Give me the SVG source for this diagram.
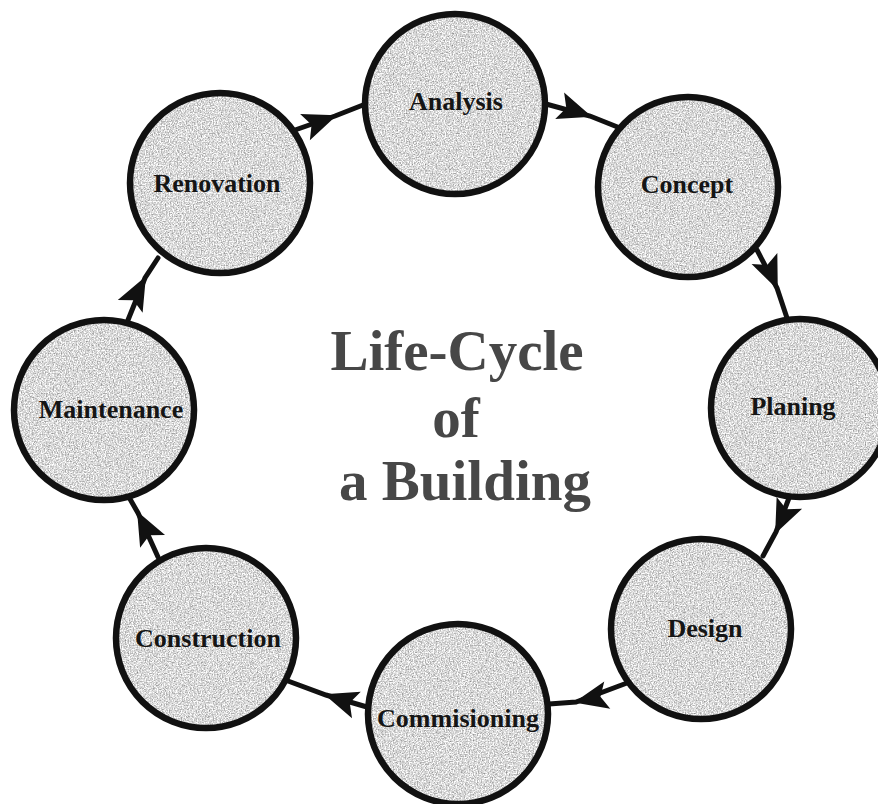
<svg xmlns="http://www.w3.org/2000/svg" width="878" height="804" viewBox="0 0 878 804">
  <defs>
    <style>
      .disc { fill: #000; filter: url(#stipple); }
      .ring { fill: none; stroke: #111; stroke-width: 6.5; }
      .lbl { font-family: "Liberation Serif", "Times New Roman", serif; font-weight: bold; font-size: 26px; fill: #151515; text-anchor: middle; }
      .title { font-family: "Liberation Serif", "Times New Roman", serif; font-weight: bold; font-size: 57px; fill: #474747; text-anchor: middle; }
      .conn { fill: none; stroke: #111; stroke-width: 5; stroke-linecap: round; marker-mid: url(#arrow); }
    </style>
    <filter id="stipple" x="0" y="0" width="1" height="1" color-interpolation-filters="sRGB">
      <feTurbulence type="fractalNoise" baseFrequency="0.75" numOctaves="2" seed="4" result="n"/>
      <feColorMatrix in="n" type="matrix" values="0.8 0 0 0 0.45  0.8 0 0 0 0.45  0.8 0 0 0 0.45  0 0 0 0 1" result="g"/>
      <feComposite in="g" in2="SourceGraphic" operator="in"/>
    </filter>
    <marker id="arrow" markerUnits="userSpaceOnUse" markerWidth="40" markerHeight="34" viewBox="-37 -17 40 34" refX="0" refY="0" orient="auto">
      <path d="M2,0 L-32,-14 L-25,0 L-32,14 Z" fill="#111"/>
    </marker>
  </defs>
  <rect width="878" height="804" fill="#ffffff"/>

  <g id="connectors">
    <path class="conn" d="M295,130 L335,116 L363,105"/>
    <path class="conn" d="M546,104 L590,116 L620,128"/>
    <path class="conn" d="M757,250 L777,288 L787,318"/>
    <path class="conn" d="M789,498 L776,532 L763,556"/>
    <path class="conn" d="M627,683 L576,702 L549,704"/>
    <path class="conn" d="M367,707 L326,695 L288,681"/>
    <path class="conn" d="M158,557 L138,513 L130,499"/>
    <path class="conn" d="M128,320 L145,278 L158,258"/>
  </g>

  <g id="title">
    <text class="title" x="457" y="370">Life-Cycle</text>
    <text class="title" x="456" y="437">of</text>
    <text class="title" x="465" y="500">a Building</text>
  </g>

  <g id="analysis">
    <circle class="disc" cx="455" cy="104" r="90"/>
    <circle class="ring" cx="455" cy="104" r="90"/>
    <text class="lbl" x="456" y="110">Analysis</text>
  </g>
  <g id="concept">
    <circle class="disc" cx="688" cy="187" r="90"/>
    <circle class="ring" cx="688" cy="187" r="90"/>
    <text class="lbl" x="687" y="193">Concept</text>
  </g>
  <g id="planing">
    <circle class="disc" cx="800" cy="408" r="89"/>
    <circle class="ring" cx="800" cy="408" r="89"/>
    <text class="lbl" x="793" y="415">Planing</text>
  </g>
  <g id="design">
    <circle class="disc" cx="701" cy="629" r="90"/>
    <circle class="ring" cx="701" cy="629" r="90"/>
    <text class="lbl" x="705" y="637">Design</text>
  </g>
  <g id="commisioning">
    <circle class="disc" cx="458" cy="714" r="90"/>
    <circle class="ring" cx="458" cy="714" r="90"/>
    <text class="lbl" x="458" y="727">Commisioning</text>
  </g>
  <g id="construction">
    <circle class="disc" cx="206" cy="638" r="90"/>
    <circle class="ring" cx="206" cy="638" r="90"/>
    <text class="lbl" x="208" y="647">Construction</text>
  </g>
  <g id="maintenance">
    <circle class="disc" cx="104" cy="410" r="90"/>
    <circle class="ring" cx="104" cy="410" r="90"/>
    <text class="lbl" x="111" y="418">Maintenance</text>
  </g>
  <g id="renovation">
    <circle class="disc" cx="220" cy="183" r="90"/>
    <circle class="ring" cx="220" cy="183" r="90"/>
    <text class="lbl" x="217" y="192">Renovation</text>
  </g>
</svg>
